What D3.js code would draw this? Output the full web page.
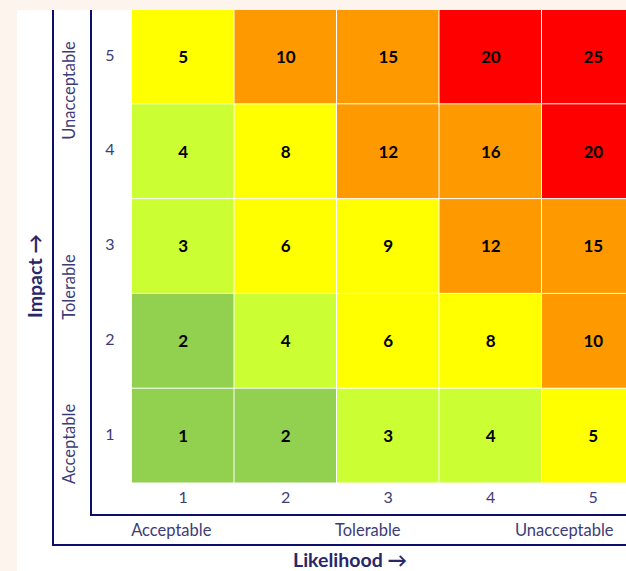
<!DOCTYPE html>
<html>
<head>
<meta charset="utf-8">
<script src="https://cdn.jsdelivr.net/npm/d3@7"></script>
<style>
  html, body { margin: 0; padding: 0; background: #fdf4ee; }
  svg { display: block; }
</style>
</head>
<body>
<svg id="chart" width="626" height="571"></svg>
<script>
// ---- data ----
const likelihood = [1, 2, 3, 4, 5];          // x categories
const impact = [1, 2, 3, 4, 5];              // y categories
const scores = [                              // rows by impact (1..5), columns by likelihood (1..5)
  [1, 2, 3, 4, 5],
  [2, 4, 6, 8, 10],
  [3, 6, 9, 12, 15],
  [4, 8, 12, 16, 20],
  [5, 10, 15, 20, 25]
];
const bandThresholds = [3, 5, 10, 17];
const bandColors = ["#92d050", "#ccff33", "#ffff00", "#ff9900", "#ff0000"];
const groupLabels = ["Acceptable", "Tolerable", "Unacceptable"];
const xTitle = "Likelihood \u2192";
const yTitle = "Impact \u2192";

// ---- drawing ----
const svg = d3.select("#chart");
const W = 626, H = 571;
const navy = "#0d0d6b";
const labelColor = "#3c3c78";
const titleColor = "#27276a";
const font = "Lato, 'Open Sans', sans-serif";

// white panel
svg.append("rect").attr("x", 17).attr("y", 10).attr("width", W - 17).attr("height", H - 10).attr("fill", "#ffffff");

const x = d3.scaleBand().domain(likelihood).range([132, 644.5]);
const y = d3.scaleBand().domain(impact.slice().reverse()).range([9.5, 483.5]);
const color = d3.scaleThreshold().domain(bandThresholds).range(bandColors);

const cells = [];
impact.forEach((im, i) => likelihood.forEach((lk, j) => cells.push({ im, lk, v: scores[i][j] })));

svg.append("clipPath").attr("id", "clip").append("rect")
  .attr("x", 17).attr("y", 10).attr("width", W - 17).attr("height", H - 10);

const g = svg.append("g").attr("clip-path", "url(#clip)");
g.selectAll("rect.cell").data(cells).join("rect")
  .attr("class", "cell")
  .attr("x", d => x(d.lk))
  .attr("y", d => y(d.im))
  .attr("width", x.bandwidth() - 1)
  .attr("height", y.bandwidth() - 1)
  .attr("fill", d => color(d.v));

g.selectAll("text.val").data(cells).join("text")
  .attr("class", "val")
  .attr("x", d => x(d.lk) + x.bandwidth() / 2)
  .attr("y", d => y(d.im) + y.bandwidth() / 2)
  .attr("dy", "0.35em")
  .attr("text-anchor", "middle")
  .attr("font-family", font)
  .attr("font-weight", "bold")
  .attr("font-size", 17)
  .attr("fill", "#000")
  .text(d => d.v);

// tick labels
svg.selectAll("text.ytick").data(impact).join("text")
  .attr("class", "ytick")
  .attr("x", 110)
  .attr("y", d => y(d) + y.bandwidth() / 2 - 2)
  .attr("dy", "0.35em")
  .attr("text-anchor", "middle")
  .attr("font-family", font).attr("font-size", 16).attr("fill", labelColor)
  .text(d => d);

svg.selectAll("text.xtick").data(likelihood).join("text")
  .attr("class", "xtick")
  .attr("x", d => x(d) + x.bandwidth() / 2)
  .attr("y", 497)
  .attr("dy", "0.35em")
  .attr("text-anchor", "middle")
  .attr("font-family", font).attr("font-size", 16).attr("fill", labelColor)
  .text(d => d);

// axis frames
const line = (x1, y1, x2, y2) => svg.append("line")
  .attr("x1", x1).attr("y1", y1).attr("x2", x2).attr("y2", y2)
  .attr("stroke", navy).attr("stroke-width", 2);
line(91, 10, 91, 515);
line(90, 515, W, 515);
line(53, 10, 53, 545);
line(52, 545, W, 545);

// group labels (x)
const xg = d3.scaleBand().domain(groupLabels).range([73, 662.5]);
svg.selectAll("text.xgroup").data(groupLabels).join("text")
  .attr("class", "xgroup")
  .attr("x", d => xg(d) + xg.bandwidth() / 2)
  .attr("y", 530)
  .attr("dy", "0.35em")
  .attr("text-anchor", "middle")
  .attr("font-family", font).attr("font-size", 16.5).attr("fill", labelColor)
  .text(d => d);

// group labels (y), rotated
const yCenters = [444, 287, 90.5];
svg.selectAll("text.ygroup").data(groupLabels).join("text")
  .attr("class", "ygroup")
  .attr("transform", (d, i) => `translate(69,${yCenters[i]}) rotate(-90)`)
  .attr("dy", "0.35em")
  .attr("text-anchor", "middle")
  .attr("font-family", font).attr("font-size", 16.5).attr("fill", labelColor)
  .text(d => d);

// axis titles
svg.append("text")
  .attr("x", 350).attr("y", 567)
  .attr("text-anchor", "middle")
  .attr("font-family", font).attr("font-weight", "bold").attr("font-size", 19.5).attr("fill", titleColor)
  .text(xTitle);

svg.append("text")
  .attr("transform", "translate(35,276) rotate(-90)")
  .attr("dy", "0.35em")
  .attr("text-anchor", "middle")
  .attr("font-family", font).attr("font-weight", "bold").attr("font-size", 19.5).attr("fill", titleColor)
  .text(yTitle);
</script>
</body>
</html>
